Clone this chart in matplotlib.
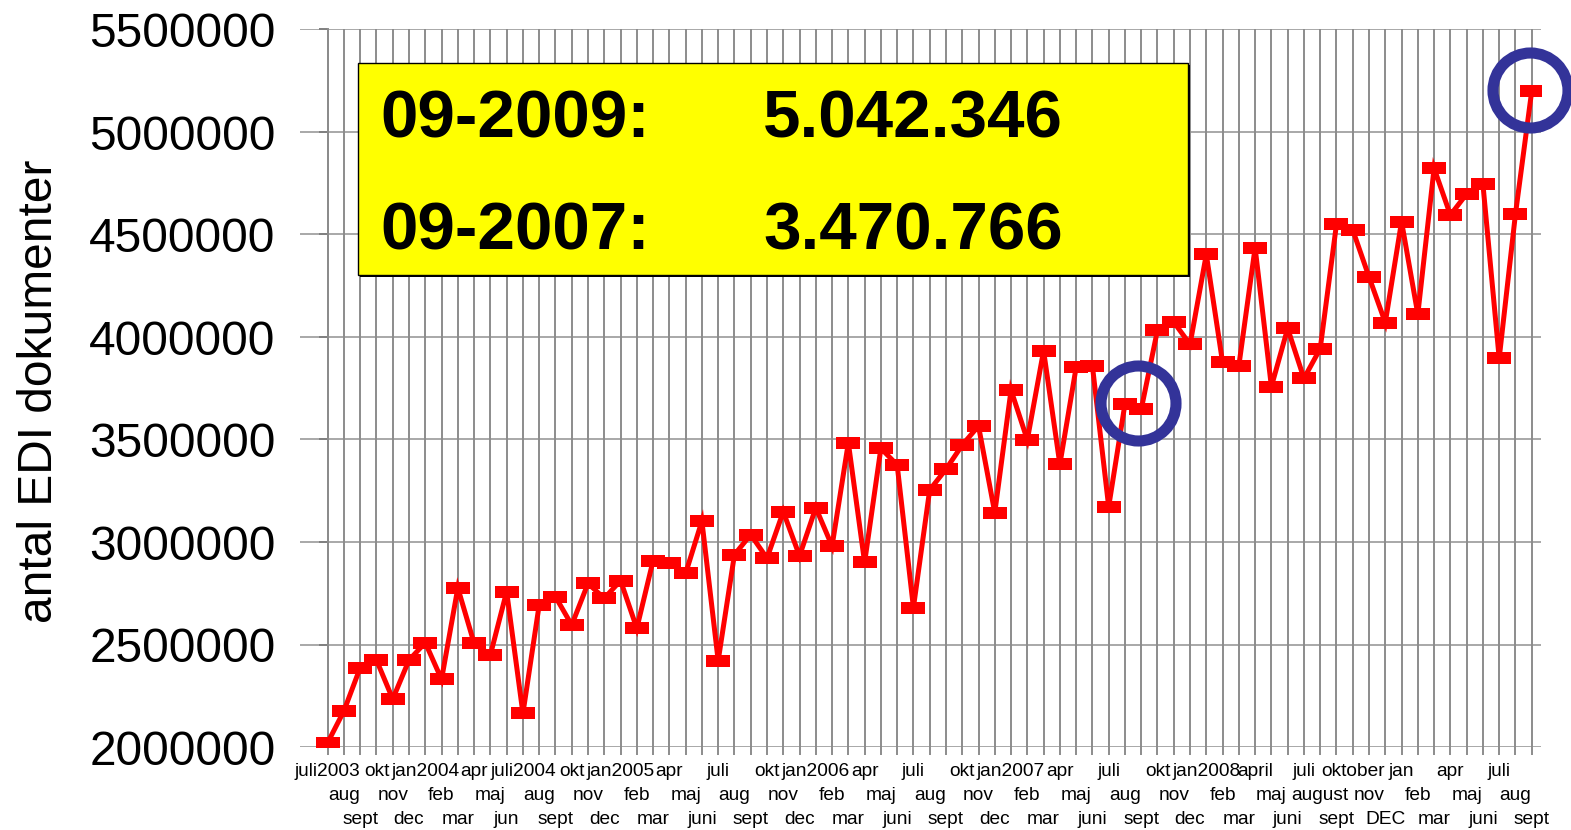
import matplotlib
matplotlib.use("Agg")
import matplotlib.pyplot as plt
from matplotlib.patches import Rectangle
from matplotlib.transforms import blended_transform_factory

plt.rcParams['font.family'] = ['Liberation Sans', 'DejaVu Sans']

months = ["juli2003", "aug", "sept", "okt", "nov", "dec", "jan2004", "feb", "mar", "apr", "maj", "jun",
          "juli2004", "aug", "sept", "okt", "nov", "dec", "jan2005", "feb", "mar", "apr", "maj", "juni",
          "juli", "aug", "sept", "okt", "nov", "dec", "jan2006", "feb", "mar", "apr", "maj", "juni",
          "juli", "aug", "sept", "okt", "nov", "dec", "jan2007", "feb", "mar", "apr", "maj", "juni",
          "juli", "aug", "sept", "okt", "nov", "dec", "jan2008", "feb", "mar", "april", "maj", "juni",
          "juli", "august", "sept", "oktober", "nov", "DEC", "jan", "feb", "mar", "apr", "maj", "juni",
          "juli", "aug", "sept"]

docs = [2021000, 2176000, 2387000, 2424000, 2234000, 2424000, 2509000, 2330000, 2776000, 2506000, 2449000, 2758000,
        2164000, 2693000, 2733000, 2595000, 2798000, 2725000, 2812000, 2579000, 2909000, 2899000, 2847000, 3102000,
        2421000, 2938000, 3036000, 2921000, 3148000, 2932000, 3167000, 2980000, 3484000, 2900000, 3457000, 3376000,
        2680000, 3254000, 3355000, 3473000, 3566000, 3143000, 3741000, 3498000, 3933000, 3379000, 3852000, 3859000,
        3172000, 3673000, 3647000, 4034000, 4073000, 3964000, 4403000, 3876000, 3860000, 4436000, 3758000, 4042000,
        3798000, 3943000, 4550000, 4522000, 4293000, 4070000, 4563000, 4111000, 4823000, 4595000, 4698000, 4746000,
        3896000, 4600000, 5200000]

yticks = [2000000, 2500000, 3000000, 3500000, 4000000, 4500000, 5000000, 5500000]

# highlighted points (blue rings)
ring_x = [49.8, 73.9]
ring_y = [3680000, 5205000]

box_rows = [("09-2009:", "5.042.346"), ("09-2007:", "3.470.766")]

W, H = 1571, 830
fig = plt.figure(figsize=(W / 100, H / 100), dpi=100)
ax = fig.add_axes([300 / W, 1 - 747 / H, (1541 - 300) / W, (747 - 29.5) / H])

x = list(range(len(docs)))
rect_marker = [(-1, -0.54), (1, -0.54), (1, 0.54), (-1, 0.54), (-1, -0.54)]
ax.plot(x, docs, color='#ff0000', lw=3.6, marker=rect_marker, ms=17.3, mew=0,
        solid_joinstyle='miter', zorder=3)
ax.plot(ring_x, ring_y, 'o', ms=54, mfc='none', mec='#333399', mew=8, zorder=4, clip_on=False)

ax.set_xlim(-1.70, 74.57)
ax.set_ylim(2000000, 5500000)
ax.set_yticks(yticks)
ax.set_yticklabels([str(v) for v in yticks])
ax.set_xticks(x)
ax.set_xticklabels([])

for v in yticks:
    ax.axhline(v, color='#a8a8a8', lw=1.4, zorder=1)
for i in x:
    ax.axvline(i, color='#8c8c8c', lw=1.4, zorder=1)

for s in ['top', 'right', 'bottom']:
    ax.spines[s].set_visible(False)
ax.spines['left'].set_position(('data', 0))
ax.spines['left'].set_color('#8c8c8c')
ax.spines['left'].set_linewidth(1.4)
ax.tick_params(axis='y', length=6.5, width=1.4, color='#808080', pad=31, labelsize=34.5)
ax.tick_params(axis='x', length=6, width=1.4, color='#8c8c8c')

# staggered month labels in three rows
tr = blended_transform_factory(ax.transData, fig.transFigure)
row_base = [776, 800, 824]
for i, lab in enumerate(months):
    ax.text(i, 1 - row_base[i % 3] / H, lab, transform=tr, ha='center', va='baseline',
            fontsize=13.8, clip_on=False)

fig.text(40 / W, 1 - 391 / H, "antal EDI dokumenter", rotation=90, ha='center', va='center',
         fontsize=34.5)

# yellow info box
fig.patches.append(Rectangle((360 / W, 1 - 277 / H), (1188 - 358) / W, (275 - 63) / H,
                             transform=fig.transFigure, facecolor='black', edgecolor='none', zorder=5))
fig.patches.append(Rectangle((358 / W, 1 - 275 / H), (1188 - 358) / W, (275 - 63) / H,
                             transform=fig.transFigure, facecolor='#ffff00', edgecolor='black',
                             lw=1.0, zorder=6))
for (lab, val), base in zip(box_rows, [137, 250]):
    fig.text(380 / W, 1 - base / H, lab, fontsize=48.5, fontweight='bold', va='baseline', zorder=7)
    fig.text(763 / W, 1 - base / H, val, fontsize=48.5, fontweight='bold', va='baseline', zorder=7)

fig.savefig("out.png", dpi=100)
